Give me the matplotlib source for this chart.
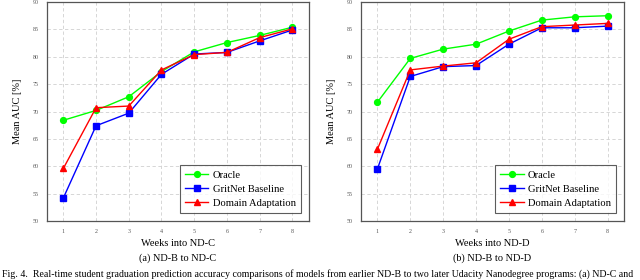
import matplotlib
matplotlib.use("Agg")
import matplotlib.pyplot as plt

plt.rcParams['font.family'] = ['Liberation Serif', 'DejaVu Serif']

weeks = [1, 2, 3, 4, 5, 6, 7, 8]
yticks = [50, 55, 60, 65, 70, 75, 80, 85, 90]

# ND-B -> ND-C
oracle_c = [68.4, 70.2, 72.7, 77.3, 80.9, 82.6, 83.9, 85.4]
gritnet_c = [54.2, 67.4, 69.7, 76.8, 80.5, 80.8, 82.9, 84.9]
da_c = [59.6, 70.7, 71.0, 77.6, 80.4, 80.8, 83.5, 85.1]

# ND-B -> ND-D
oracle_d = [71.7, 79.7, 81.4, 82.3, 84.7, 86.7, 87.3, 87.5]
gritnet_d = [59.5, 76.4, 78.2, 78.4, 82.3, 85.3, 85.3, 85.6]
da_d = [63.1, 77.6, 78.3, 78.9, 83.2, 85.5, 85.8, 86.1]

subcaptions = ["(a) ND-B to ND-C", "(b) ND-B to ND-D"]
xlabels = ["Weeks into ND-C", "Weeks into ND-D"]
caption = ("Fig. 4.  Real-time student graduation prediction accuracy comparisons of models "
           "from earlier ND-B to two later Udacity Nanodegree programs: (a) ND-C and")

fig = plt.figure(figsize=(6.4, 2.8), dpi=100)
axes = [fig.add_axes([0.0734, 0.2107, 0.409, 0.782]),
        fig.add_axes([0.564, 0.2107, 0.411, 0.782])]

panels = [(oracle_c, gritnet_c, da_c), (oracle_d, gritnet_d, da_d)]
for i, (ax, (orc, grit, da)) in enumerate(zip(axes, panels)):
    ax.plot(weeks, orc, color='#00ff00', marker='o', markersize=4.2, lw=1.0, label='Oracle')
    ax.plot(weeks, grit, color='#0000ff', marker='s', markersize=4.2, lw=1.0, label='GritNet Baseline')
    ax.plot(weeks, da, color='#ff0000', marker='^', markersize=4.2, lw=1.0, label='Domain Adaptation')
    ax.set_xlim(0.5, 8.5)
    ax.set_ylim(50, 90)
    ax.set_xticks(weeks)
    ax.set_yticks(yticks)
    ax.grid(True, color='#d0d0d0', linestyle=(0, (4, 3)), linewidth=0.6)
    ax.tick_params(labelsize=4.3, colors='#555555', length=0, pad=6)
    for sp in ax.spines.values():
        sp.set_color('#555555')
        sp.set_linewidth(0.9)
    ax.set_ylabel("Mean AUC [%]", fontsize=7.5, labelpad=8)
    leg = ax.legend(loc='lower right', fontsize=7.6, frameon=True, fancybox=False,
                    edgecolor='#333333', handlelength=2.2, borderpad=0.5,
                    labelspacing=0.42, handletextpad=0.4, borderaxespad=0,
                    bbox_to_anchor=(0.97, 0.037))
    leg.get_frame().set_linewidth(0.8)
    cx = (ax.get_position().x0 + ax.get_position().x1) / 2
    fig.text(cx, 0.132, xlabels[i], ha='center', va='center', fontsize=7.5)
    fig.text(cx, 0.079, subcaptions[i], ha='center', va='center', fontsize=7.4)

fig.text(0.003, 0.021, caption, ha='left', va='center', fontsize=7.1)

fig.savefig('out.png', dpi=100)
